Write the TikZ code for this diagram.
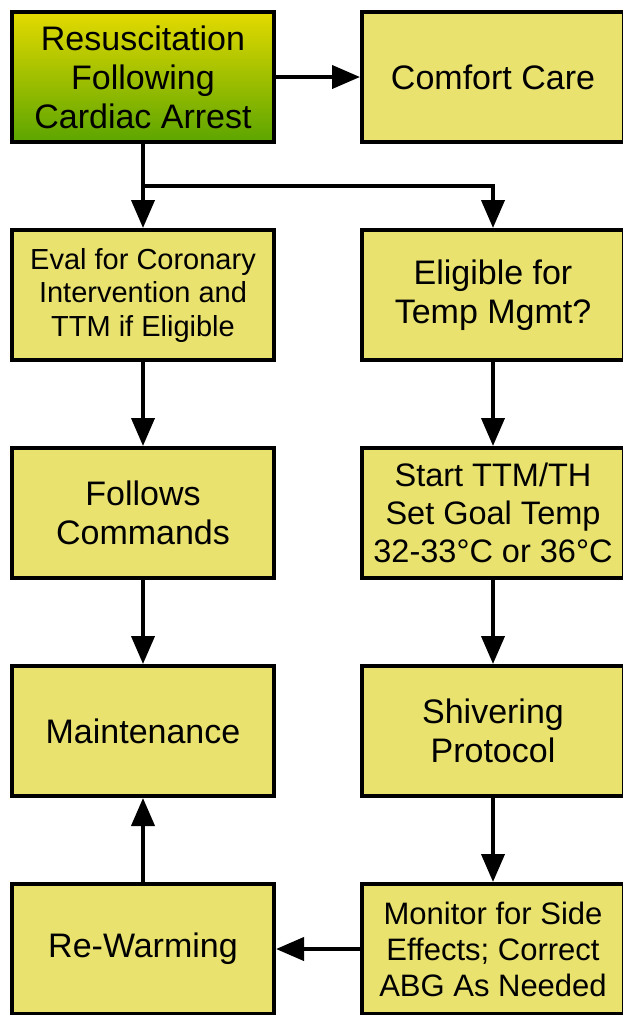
\documentclass[tikz,border=0pt]{standalone}
\usepackage{fontspec}
\setmainfont{Liberation Sans}
\usetikzlibrary{arrows.meta,positioning,calc}
\definecolor{boxfill}{RGB}{233,226,111}
\definecolor{topyellow}{RGB}{228,218,0}
\definecolor{botgreen}{RGB}{92,165,0}

\begin{document}
\begin{tikzpicture}[
  x=1pt, y=-1pt,
  node distance=84pt,
  box/.style={rectangle, draw=black, line width=4pt, fill=boxfill, minimum width=262pt, minimum height=130pt, align=center, inner sep=0pt, font=\fontsize{34}{39}\selectfont},
  arrow/.style={-{Triangle[length=28pt,width=23pt]}, line width=4pt}
]
  \useasboundingbox (0,0) rectangle (622,1015);
  \node[box, top color=topyellow, bottom color=botgreen] (rca) at (143,77) {Resuscitation\\Following\\Cardiac Arrest};
  \node[box, right=of rca] (comfort) {Comfort Care};
  \node[box, below=of rca, font=\fontsize{29}{33.5}\selectfont] (eval) {Eval for Coronary\\Intervention and\\TTM if Eligible};
  \node[box, below=of comfort] (elig) {Eligible for\\Temp Mgmt?};
  \node[box, below=of eval] (follows) {Follows\\Commands};
  \node[box, below=of elig, font=\fontsize{32.5}{38}\selectfont] (start) {Start TTM/TH\\Set Goal Temp\\32-33°C or 36°C};
  \node[box, below=of follows] (maint) {Maintenance};
  \node[box, below=of start] (shiver) {Shivering\\Protocol};
  \node[box, below=of maint] (rewarm) {Re-Warming};
  \node[box, below=of shiver, font=\fontsize{31}{36}\selectfont] (monitor) {Monitor for Side\\Effects; Correct\\ABG As Needed};
  \coordinate (split) at ($(rca.south)!0.5!(eval.north)$);
  \draw[arrow] (rca) -- (comfort);
  \draw[arrow] (rca) -- (eval);
  \draw[arrow] (split) -| (elig.north);
  \draw[arrow] (eval) -- (follows);
  \draw[arrow] (follows) -- (maint);
  \draw[arrow] (rewarm) -- (maint);
  \draw[arrow] (elig) -- (start);
  \draw[arrow] (start) -- (shiver);
  \draw[arrow] (shiver) -- (monitor);
  \draw[arrow] (monitor) -- (rewarm);
\end{tikzpicture}
\end{document}
